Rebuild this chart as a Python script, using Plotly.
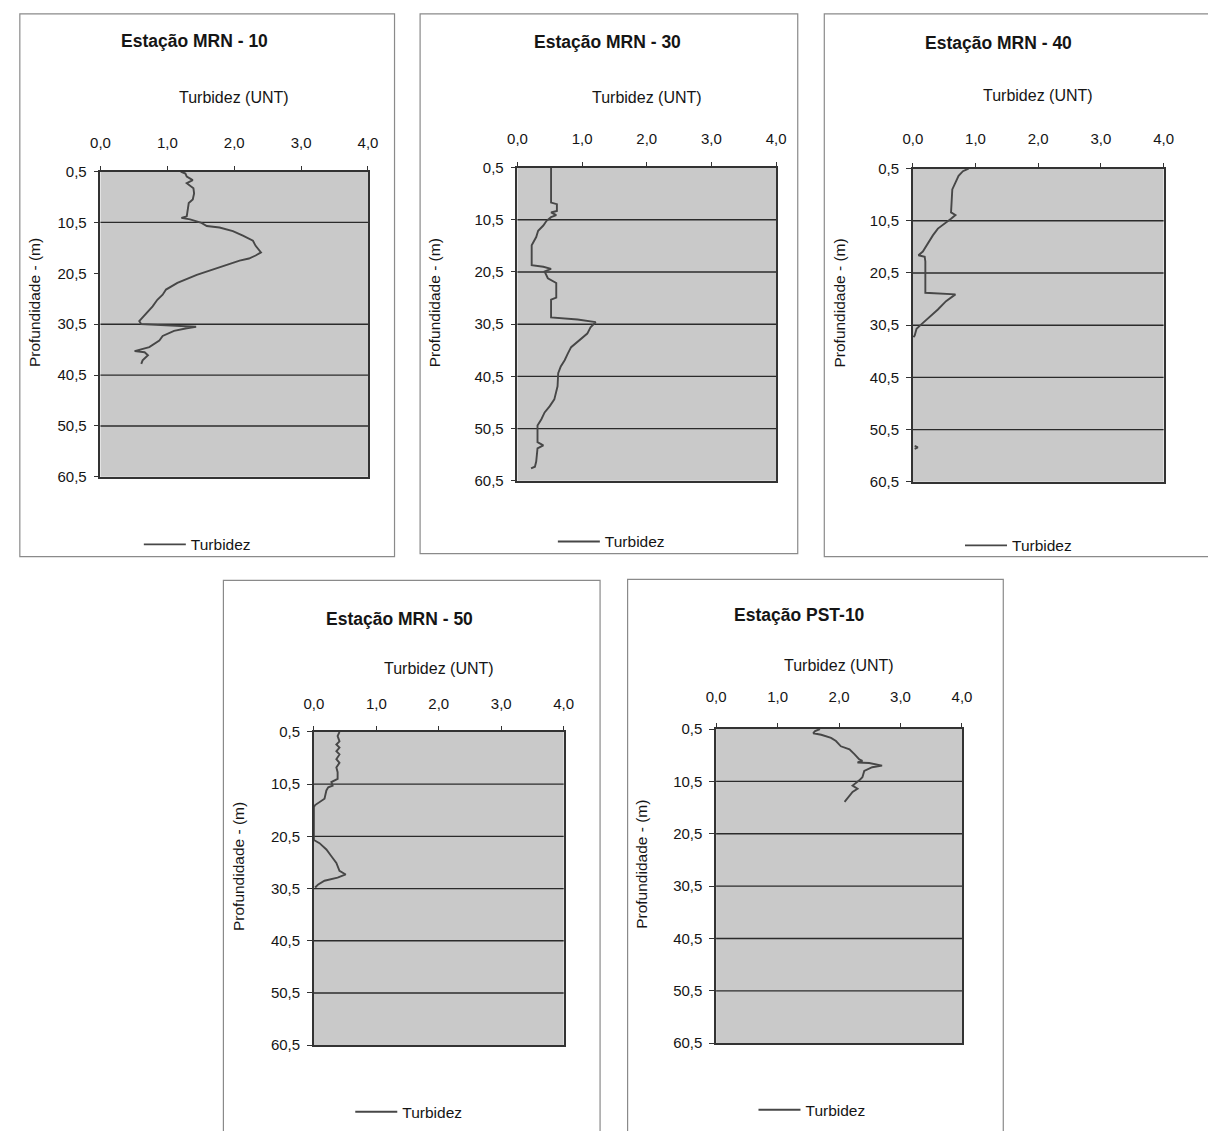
import plotly.graph_objects as go

W, H = 1208, 1131

# ---------------- data ----------------
titles = ["Estação MRN - 10", "Estação MRN - 30", "Estação MRN - 40",
          "Estação MRN - 50", "Estação PST-10"]
series_name = "Turbidez"
x_title = "Turbidez (UNT)"
y_title = "Profundidade - (m)"

xtick_vals = [0, 1, 2, 3, 4]
xtick_text = ["0,0", "1,0", "2,0", "3,0", "4,0"]
ytick_vals = [0.5, 10.5, 20.5, 30.5, 40.5, 50.5, 60.5]
ytick_text = ["0,5", "10,5", "20,5", "30,5", "40,5", "50,5", "60,5"]

depth_mrn10 = [0.5, 0.9, 1.5, 2.2, 2.8, 3.8, 4.8, 6.0, 6.7, 9.3, 9.6, 9.9, 10.6, 11.2,
               11.5, 12.2, 13.1, 14.1, 15.1, 16.4, 17.0, 17.6, 18.0, 19.8, 20.8, 22.4,
               23.7, 24.7, 25.7, 27.0, 28.0, 29.3, 29.9, 30.5, 30.7, 30.8, 31.0, 31.3,
               31.8, 32.8, 33.7, 35.0, 35.8, 36.0, 36.6, 37.6, 38.3]
turb_mrn10 = [1.20, 1.27, 1.29, 1.38, 1.29, 1.39, 1.40, 1.38, 1.32, 1.29, 1.21, 1.34, 1.51, 1.59,
              1.78, 1.98, 2.13, 2.28, 2.32, 2.40, 2.32, 2.22, 2.08, 1.69, 1.44, 1.15,
              0.98, 0.93, 0.85, 0.78, 0.71, 0.63, 0.58, 0.61, 0.97, 1.29, 1.43, 1.29,
              1.10, 0.93, 0.88, 0.73, 0.51, 0.66, 0.71, 0.63, 0.61]

depth_mrn30 = [0.5, 7.2, 7.5, 8.8, 9.1, 9.6, 10.0, 10.7, 11.6, 12.6, 13.8, 15.4, 19.2, 19.5,
               19.9, 20.4, 21.7, 22.6, 25.4, 25.8, 29.2, 29.6, 30.1, 31.1, 32.3, 33.6, 34.9,
               36.1, 37.4, 38.6, 39.9, 42.4, 44.9, 46.2, 47.4, 48.7, 49.9, 53.1, 53.7, 54.3,
               56.8, 57.8, 58.1]
turb_mrn30 = [0.52, 0.52, 0.61, 0.61, 0.52, 0.60, 0.52, 0.45, 0.40, 0.32, 0.29, 0.22, 0.22, 0.40,
              0.52, 0.42, 0.47, 0.60, 0.60, 0.52, 0.52, 0.93, 1.21, 1.13, 1.08, 0.95, 0.83,
              0.78, 0.73, 0.67, 0.63, 0.62, 0.57, 0.50, 0.42, 0.37, 0.31, 0.31, 0.40, 0.31,
              0.29, 0.27, 0.21]

depth_mrn40 = [0.5, 1.0, 1.9, 3.2, 4.5, 8.9, 9.4, 10.1, 11.1, 12.0, 13.3, 14.9, 16.4, 17.1,
               17.4, 18.3, 24.3, 24.6, 25.9, 27.5, 29.0, 30.3, 31.2, 32.5, 32.8,
               None, 53.6, 53.9, 54.2]
turb_mrn40 = [0.89, 0.80, 0.73, 0.68, 0.63, 0.61, 0.68, 0.61, 0.50, 0.40, 0.32, 0.23, 0.16, 0.09,
              0.19, 0.20, 0.20, 0.68, 0.53, 0.40, 0.27, 0.14, 0.06, 0.03, 0.01,
              None, 0.03, 0.08, 0.03]

depth_mrn50 = [0.5, 1.3, 2.3, 2.9, 3.5, 4.2, 4.8, 5.7, 6.4, 7.3, 8.2, 9.5, 10.1, 10.8, 11.1,
               11.7, 13.3, 13.9, 14.5, 14.9, 21.2, 21.8, 23.0, 24.3, 25.6, 27.1, 27.8, 28.4,
               29.0, 29.7, 30.3]
turb_mrn50 = [0.41, 0.38, 0.41, 0.36, 0.41, 0.36, 0.41, 0.36, 0.41, 0.36, 0.38, 0.38, 0.28, 0.30, 0.23,
              0.20, 0.17, 0.09, 0.02, 0.00, 0.00, 0.09, 0.20, 0.28, 0.36, 0.41, 0.51, 0.38,
              0.17, 0.07, 0.02]

depth_pst10 = [0.5, 0.9, 1.3, 1.6, 2.2, 2.8, 3.8, 4.4, 5.3, 6.3, 6.6, 6.9, 7.0, 7.5, 7.8,
               8.5, 9.7, 10.3, 11.3, 11.9, 12.5, 13.2, 13.8, 14.4]
turb_pst10 = [1.69, 1.61, 1.58, 1.71, 1.87, 1.95, 2.03, 2.17, 2.25, 2.33, 2.38, 2.30, 2.49, 2.70, 2.54,
              2.41, 2.38, 2.33, 2.22, 2.30, 2.22, 2.17, 2.14, 2.09]

depths = [depth_mrn10, depth_mrn30, depth_mrn40, depth_mrn50, depth_pst10]
turbs = [turb_mrn10, turb_mrn30, turb_mrn40, turb_mrn50, turb_pst10]

# ---------------- layout (pixels) ----------------
plot_boxes = [(92, 364, 165, 475), (516, 779, 161, 479), (918, 1173, 162, 480),
              (309, 563, 734, 1052), (718, 968, 731, 1050)]
frames = [(10, 5, 391, 556), (417, 5, 801, 553), (828, 5, 1225, 556),
          (217, 580, 600, 1140), (628, 579, 1010, 1140)]
title_y = [32, 33, 35, 619, 615]
xtitle_y = [90, 90, 88, 670, 667]
ytitle_x = [25, 432, 843, 233, 642]
legend_pos = [(131, 544), (552, 541), (966, 545), (346, 1120), (756, 1118)]
xlabel_standoff = [12, 12, 13, 11, 15]
skip_grid = {0: [20.5]}

FONT = "Liberation Sans, Arial, sans-serif"
TXT = "#151515"


def px(x):
    return x / W


def py(y):
    return 1 - y / H


fig = go.Figure()
annotations = []
shapes = []
layout_extra = {}

for i in range(5):
    n = "" if i == 0 else str(i + 1)
    xl, xr, yt, yb = plot_boxes[i]
    fig.add_trace(go.Scatter(
        x=turbs[i], y=depths[i], mode="lines", name=series_name,
        line=dict(color="#474747", width=1.9), connectgaps=False,
        xaxis="x" + n, yaxis="y" + n,
        legend="legend" + n,
    ))
    layout_extra["xaxis" + n] = dict(
        domain=[px(xl), px(xr)], anchor="y" + n, side="top", range=[0, 4],
        tickvals=xtick_vals, ticktext=xtick_text, ticks="outside", ticklen=4,
        tickcolor="#333", showline=True, linecolor="#333", linewidth=1.5,
        mirror=True, showgrid=False, zeroline=False,
        ticklabelstandoff=xlabel_standoff[i],
        tickfont=dict(family=FONT, size=15, color=TXT), fixedrange=True,
    )
    layout_extra["yaxis" + n] = dict(
        domain=[py(yb), py(yt)], anchor="x" + n, range=[60.5, 0.5],
        tickvals=ytick_vals, ticktext=ytick_text, ticks="outside", ticklen=5,
        tickcolor="#333", showline=True, linecolor="#333", linewidth=1.5,
        mirror=True, showgrid=False, zeroline=False,
        ticklabelstandoff=4,
        tickfont=dict(family=FONT, size=15, color=TXT), fixedrange=True,
    )
    layout_extra["legend" + n] = dict(
        x=px(legend_pos[i][0]), y=py(legend_pos[i][1]), xanchor="left", yanchor="middle",
        bgcolor="rgba(0,0,0,0)", borderwidth=0, itemwidth=42,
        font=dict(family=FONT, size=15.5, color=TXT),
    )
    # plot area fill
    shapes.append(dict(type="rect", xref=f"x{n} domain", yref=f"y{n} domain",
                       x0=0, x1=1, y0=0, y1=1, fillcolor="#c9c9c9",
                       line=dict(width=0), layer="below"))
    # horizontal grid lines at the depth ticks
    for tv in ytick_vals[1:-1]:
        if tv in skip_grid.get(i, []):
            continue
        shapes.append(dict(type="line", xref=f"x{n} domain", yref="y" + n,
                           x0=0, x1=1, y0=tv, y1=tv,
                           line=dict(color="#2b2b2b", width=1.4), layer="below"))
    # chart frame
    fx0, fy0, fx1, fy1 = frames[i]
    shapes.append(dict(type="rect", xref="paper", yref="paper",
                       x0=px(fx0), x1=px(fx1), y0=py(fy1), y1=py(fy0),
                       line=dict(color="#8a8a8a", width=1.2), layer="below"))
    cx = (xl + xr) / 2
    annotations.append(dict(text=titles[i], x=px(cx - 40), y=py(title_y[i]),
                            xref="paper", yref="paper", showarrow=False,
                            xanchor="center", yanchor="middle",
                            font=dict(family=FONT, size=17.5, color=TXT, weight="bold")))
    annotations.append(dict(text=x_title, x=px(cx), y=py(xtitle_y[i]),
                            xref="paper", yref="paper", showarrow=False,
                            xanchor="center", yanchor="middle",
                            font=dict(family=FONT, size=16, color=TXT)))
    annotations.append(dict(text=y_title, x=px(ytitle_x[i]), y=py((yt + yb) / 2 - 22),
                            xref="paper", yref="paper", showarrow=False, textangle=-90,
                            xanchor="center", yanchor="middle",
                            font=dict(family=FONT, size=15.5, color=TXT)))

fig.update_layout(
    width=W, height=H, margin=dict(l=0, r=0, t=0, b=0),
    paper_bgcolor="white", plot_bgcolor="rgba(0,0,0,0)",
    showlegend=True, annotations=annotations, shapes=shapes,
    font=dict(family=FONT, color=TXT),
    **layout_extra,
)

fig.write_html("out.html", config={"displayModeBar": False},
               post_script="document.body.style.margin='0px';document.documentElement.style.overflow='hidden';")
